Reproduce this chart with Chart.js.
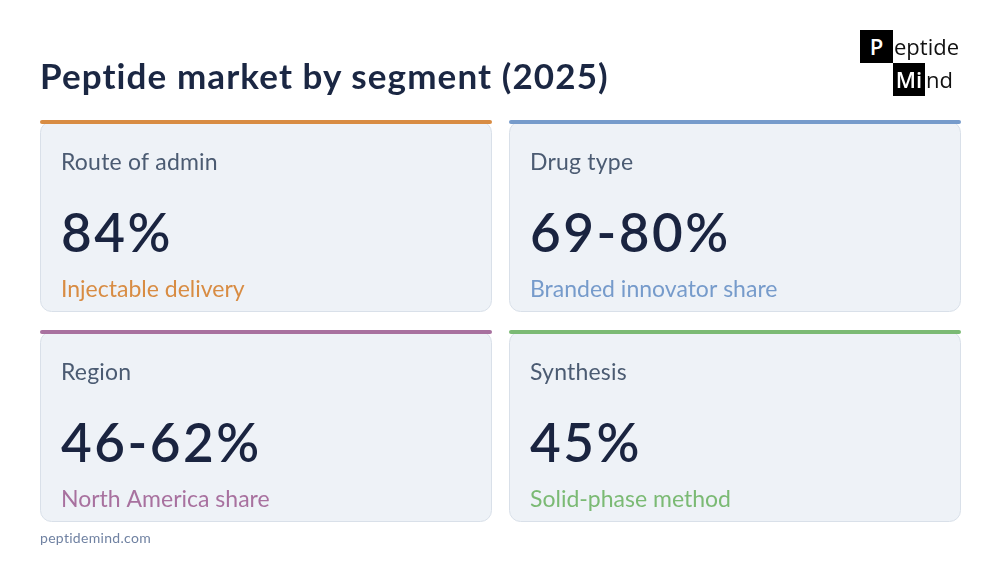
<!DOCTYPE html>
<html>
<head>
<meta charset="utf-8">
<script src="https://cdn.jsdelivr.net/npm/chart.js@4.4.1/dist/chart.umd.min.js"></script>
<style>
  html, body { margin: 0; padding: 0; background: #ffffff; }
  body { width: 1000px; height: 563px; position: relative; overflow: hidden; font-family: Lato, sans-serif; }
  #cards { position: absolute; left: 0; top: 0; }
  .title { position: absolute; left: 40px; top: 58px; font-size: 35px; line-height: 1; font-weight: 700; letter-spacing: 1.1px; color: #1b2743; white-space: nowrap; }
  .footer { position: absolute; left: 40px; top: 531px; font-size: 14px; line-height: 1; letter-spacing: 0.3px; color: #7082a2; }
  .logo { position: absolute; font-family: "Open Sans", sans-serif; font-size: 22px; font-weight: 500; height: 33px; line-height: 33px; color: #111; }
  .logo.box { background: #000; color: #fff; text-align: center; font-weight: 600; }
</style>
</head>
<body>
<canvas id="cards" width="1000" height="563"></canvas>
<div class="title">Peptide market by segment (2025)</div>
<div class="logo box" style="left:860px; top:30px; width:33px;">P</div>
<div class="logo" style="left:894px; top:30px;">eptide</div>
<div class="logo box" style="left:893px; top:63px; width:32px;">Mi</div>
<div class="logo" style="left:926px; top:63px;">nd</div>
<div class="footer">peptidemind.com</div>
<script>
// card data
var segments = ['Route of admin', 'Drug type', 'Region', 'Synthesis'];
var values = ['84%', '69-80%', '46-62%', '45%'];
var notes = ['Injectable delivery', 'Branded innovator share', 'North America share', 'Solid-phase method'];

// accent colors
var accents = ['#d88c43', '#769bcb', '#a8719f', '#7bba74'];

// grid layout of the cards
var grid = { left: 40, top: 121, cardW: 452, cardH: 191, gapX: 17, gapY: 19, cols: 2 };

function roundRect(ctx, x, y, w, h, r) {
    ctx.beginPath();
    ctx.moveTo(x + r, y);
    ctx.lineTo(x + w - r, y);
    ctx.arcTo(x + w, y, x + w, y + r, r);
    ctx.lineTo(x + w, y + h - r);
    ctx.arcTo(x + w, y + h, x + w - r, y + h, r);
    ctx.lineTo(x + r, y + h);
    ctx.arcTo(x, y + h, x, y + h - r, r);
    ctx.lineTo(x, y + r);
    ctx.arcTo(x, y, x + r, y, r);
    ctx.closePath();
}

//plugin drawing the cards
var cardPlugin = {
    id: 'cards',
    afterDraw: function (chart) {
        var ctx = chart.ctx;
        ctx.save();
        segments.forEach(function (seg, i) {
            var col = i % grid.cols, row = Math.floor(i / grid.cols);
            var x = grid.left + col * (grid.cardW + grid.gapX);
            var y = grid.top + row * (grid.cardH + grid.gapY);

            // card body
            roundRect(ctx, x + 0.5, y + 0.5, grid.cardW - 1, grid.cardH - 1, 11);
            ctx.fillStyle = '#eef2f7';
            ctx.fill();
            ctx.strokeStyle = '#d9e0e9';
            ctx.lineWidth = 1;
            ctx.stroke();

            // accent stripe
            roundRect(ctx, x, y - 1, grid.cardW, 4, 2);
            ctx.fillStyle = accents[i];
            ctx.fill();

            var tx = x + 21;
            ctx.textBaseline = 'alphabetic';
            ctx.textAlign = 'left';

            ctx.letterSpacing = '0.2px';
            ctx.fillStyle = '#4b5b72';
            ctx.font = '400 23px Lato';
            ctx.fillText(seg, tx, y + 49);

            ctx.letterSpacing = '2.5px';
            ctx.fillStyle = '#1a2440';
            ctx.font = '600 53px Lato';
            ctx.fillText(values[i], tx, y + 131);

            ctx.letterSpacing = '0px';
            ctx.fillStyle = accents[i];
            ctx.font = '400 23px Lato';
            ctx.fillText(notes[i], tx, y + 176);
        });
        ctx.restore();
    }
};

var cardsCanvas = document.getElementById('cards');
document.fonts.load('600 53px Lato').then(function () {
    new Chart(cardsCanvas, {
        type: 'bar',
        data: { labels: segments, datasets: [] },
        options: {
            responsive: false,
            animation: false,
            events: [],
            layout: { padding: 0 },
            scales: { x: { display: false }, y: { display: false } },
            plugins: { legend: { display: false }, tooltip: { enabled: false } }
        },
        plugins: [cardPlugin]
    });
});
</script>
</body>
</html>
